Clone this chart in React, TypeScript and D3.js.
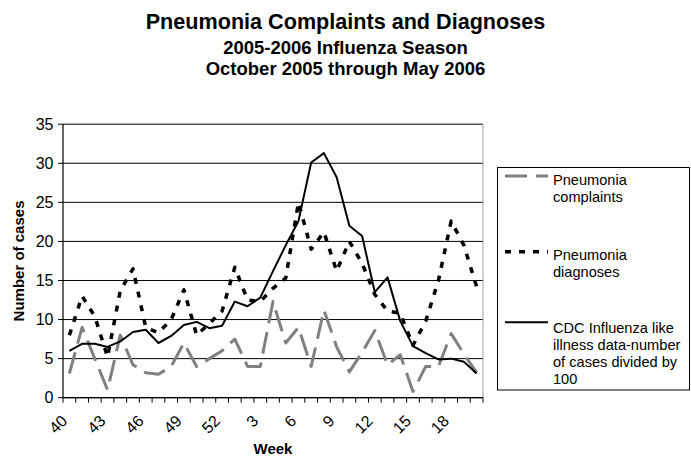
import React from 'react';
import * as d3 from 'd3';

// weeks of the 2005-2006 season (week 40 of 2005 through week 20 of 2006)
const weeks = [
  '40', '41', '42', '43', '44', '45', '46', '47', '48', '49', '50', '51', '52',
  '1', '2', '3', '4', '5', '6', '7', '8', '9', '10', '11', '12', '13', '14', '15', '16', '17', '18', '19', '20',
];
const shownTicks = ['40', '43', '46', '49', '52', '3', '6', '9', '12', '15', '18'];
const yTicks = [0, 5, 10, 15, 20, 25, 30, 35];

const complaints = [
  3.1, 9.0, 5.0, 1.0, 8.0, 4.2, 3.2, 3.0, 4.0, 7.0, 4.0, 5.0, 6.0, 7.5, 4.0, 4.0,
  12.3, 7.0, 9.0, 4.0, 11.2, 6.5, 3.3, 5.8, 8.6, 4.2, 5.5, 0.8, 4.0, 4.0, 8.2, 5.6, 3.2,
];
const diagnoses = [
  8.0, 13.0, 10.4, 5.2, 13.7, 16.5, 9.0, 8.3, 10.0, 13.8, 8.0, 9.5, 11.1, 16.7, 12.5, 12.3,
  14.0, 15.3, 25.0, 19.0, 21.2, 16.2, 20.0, 17.2, 13.2, 11.1, 10.8, 6.7, 9.8, 15.0, 22.6, 19.5, 14.2,
];
const cdc = [
  6.0, 6.9, 6.9, 6.5, 7.2, 8.4, 8.7, 7.0, 7.9, 9.3, 9.7, 8.9, 9.2, 12.3, 11.7, 12.8,
  16.2, 19.5, 22.6, 30.1, 31.3, 28.2, 22.0, 20.7, 13.5, 15.4, 9.8, 6.6, 5.7, 4.9, 5.0, 4.6, 3.1,
];

const titleLines = ['Pneumonia Complaints and Diagnoses', '2005-2006 Influenza Season', 'October 2005 through May 2006'];

const series = [
  { name: ['Pneumonia', 'complaints'], values: complaints, color: '#808080', width: 3, dash: '22,9' },
  { name: ['Pneumonia', 'diagnoses'], values: diagnoses, color: '#000', width: 3.5, dash: '6,8' },
  {
    name: ['CDC Influenza like', 'illness data-number', 'of cases divided by', '100'],
    values: cdc, color: '#000', width: 2, dash: null,
  },
];

const font = '"Liberation Sans", Arial, sans-serif';

export default function App() {
  const W = 691;
  const H = 457;
  const plot = { left: 63, right: 483, top: 124.2, bottom: 397.7 };

  const x = d3.scaleBand().domain(weeks).range([plot.left, plot.right]);
  const y = d3.scaleLinear().domain([0, 35]).range([plot.bottom, plot.top]);
  const cx = (w) => x(w) + x.bandwidth() / 2;

  const line = d3
    .line()
    .x((d, i) => cx(weeks[i]))
    .y((d) => y(d));

  // legend rows: sample line y, first baseline
  const legendRows = [
    { sy: 176, by: 185 },
    { sy: 251.7, by: 260 },
    { sy: 322.3, by: 333 },
  ];

  return (
    <svg width={W} height={H} style={{ position: 'absolute', left: 0, top: 0, background: '#fff' }} fontFamily={font}>
      {/* titles */}
      <text x={345.5} y={29} textAnchor="middle" fontSize={21.6} fontWeight="bold">{titleLines[0]}</text>
      <text x={345.5} y={54} textAnchor="middle" fontSize={18.5} fontWeight="bold">{titleLines[1]}</text>
      <text x={345.5} y={75} textAnchor="middle" fontSize={18.5} fontWeight="bold">{titleLines[2]}</text>

      {/* gridlines */}
      {yTicks.map((t) => (
        <line key={'g' + t} x1={plot.left} x2={plot.right} y1={y(t)} y2={y(t)} stroke="#000" strokeWidth={1} />
      ))}
      {/* right border of plot area */}
      <line x1={plot.right} x2={plot.right} y1={plot.top} y2={plot.bottom} stroke="#a0a0a0" strokeWidth={1} />

      {/* y axis */}
      <line x1={plot.left} x2={plot.left} y1={plot.top} y2={plot.bottom} stroke="#000" strokeWidth={1.2} />
      {yTicks.map((t) => (
        <g key={'y' + t}>
          <line x1={plot.left - 5} x2={plot.left} y1={y(t)} y2={y(t)} stroke="#000" />
          <text x={53.5} y={y(t)} dy="0.35em" textAnchor="end" fontSize={16}>{t}</text>
        </g>
      ))}
      <text
        transform={`translate(19,${(plot.top + plot.bottom) / 2}) rotate(-90)`}
        textAnchor="middle"
        dy="0.35em"
        fontSize={15}
        fontWeight="bold"
      >
        Number of cases
      </text>

      {/* x axis */}
      <line x1={plot.left} x2={plot.right} y1={plot.bottom} y2={plot.bottom} stroke="#000" strokeWidth={1.2} />
      {weeks.concat(['end']).map((w, i) => {
        const xx = i < weeks.length ? x(w) : plot.right;
        return <line key={'t' + i} x1={xx} x2={xx} y1={plot.bottom} y2={plot.bottom + 5} stroke="#000" />;
      })}
      {shownTicks.map((w) => (
        <text
          key={'xl' + w}
          transform={`translate(${cx(w) - 5},${418}) rotate(-45)`}
          textAnchor="end"
          dy="0.35em"
          fontSize={16}
        >
          {w}
        </text>
      ))}
      <text x={(plot.left + plot.right) / 2} y={454} textAnchor="middle" fontSize={15} fontWeight="bold">Week</text>

      {/* series */}
      {series.map((s, i) => (
        <path
          key={'s' + i}
          d={line(s.values)}
          fill="none"
          stroke={s.color}
          strokeWidth={s.width}
          strokeDasharray={s.dash || undefined}
          strokeLinejoin="round"
        />
      ))}

      {/* legend */}
      <rect x={497.5} y={167.5} width={192} height={222.5} fill="#fff" stroke="#000" strokeWidth={1} />
      {series.map((s, i) => (
        <g key={'l' + i}>
          <line
            x1={505}
            x2={548}
            y1={legendRows[i].sy}
            y2={legendRows[i].sy}
            stroke={s.color}
            strokeWidth={s.width}
            strokeDasharray={s.dash || undefined}
          />
          {s.name.map((n, j) => (
            <text key={j} x={553} y={legendRows[i].by + j * 17} fontSize={14.6}>{n}</text>
          ))}
        </g>
      ))}
    </svg>
  );
}
